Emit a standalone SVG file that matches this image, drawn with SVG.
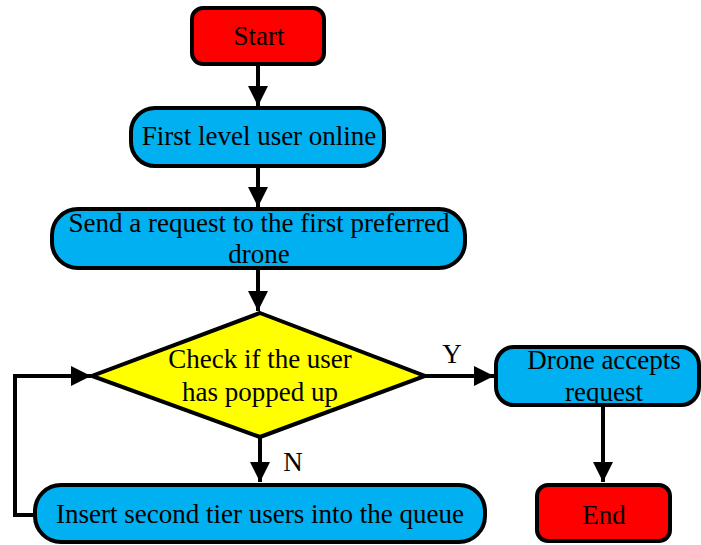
<svg xmlns="http://www.w3.org/2000/svg" width="701" height="545" viewBox="0 0 701 545" font-family="'Liberation Serif', 'DejaVu Serif', serif">
  <style>
    .box { stroke: #000; stroke-width: 4; }
    .term { fill: #FF0000; }
    .proc { fill: #00B0F0; }
    .dec { fill: #FFFF00; }
    .lbl { font-family: 'Liberation Serif', 'DejaVu Serif', serif; font-size: 27px; fill: #000; text-anchor: middle; }
    .edge { fill: none; stroke: #000; stroke-width: 4; }
  </style>
  <defs>
    <marker id="arrow" viewBox="0 0 10 10" refX="10" refY="5" markerWidth="5" markerHeight="5" markerUnits="strokeWidth" orient="auto">
      <path d="M0,0 L10,5 L0,10 Z" fill="#000"/>
    </marker>
  </defs>

  <rect width="701" height="545" fill="#fff"/>

  <g id="connectors">
    <path class="edge" d="M258,64 L258,106" marker-end="url(#arrow)"/>
    <path class="edge" d="M258,166 L258,207" marker-end="url(#arrow)"/>
    <path class="edge" d="M258,268 L258,311" marker-end="url(#arrow)"/>
    <path class="edge" d="M425,376 L494,376" marker-end="url(#arrow)"/>
    <path class="edge" d="M260,437 L260,482" marker-end="url(#arrow)"/>
    <path class="edge" d="M603,405 L603,482" marker-end="url(#arrow)"/>
    <path class="edge" d="M35,515 L15,515 L15,376 L91,376" marker-end="url(#arrow)"/>
    <text class="lbl" x="452" y="363">Y</text>
    <text class="lbl" x="293" y="471">N</text>
  </g>

  <g id="start">
    <rect class="box term" x="192" y="8" width="132" height="56" rx="11"/>
    <text class="lbl" x="259" y="45">Start</text>
  </g>

  <g id="first-level">
    <rect class="box proc" x="131" y="108" width="253" height="58" rx="24"/>
    <text class="lbl" x="259" y="145">First level user online</text>
  </g>

  <g id="send-request">
    <rect class="box proc" x="52" y="209" width="413" height="59" rx="26"/>
    <text class="lbl" x="259" y="232">Send a request to the first preferred</text>
    <text class="lbl" x="259" y="263">drone</text>
  </g>

  <g id="check">
    <polygon class="box dec" points="260,313 425,376 260,437 92,376"/>
    <text class="lbl" x="260" y="368">Check if the user</text>
    <text class="lbl" x="260" y="401">has popped up</text>
  </g>

  <g id="accept">
    <rect class="box proc" x="496" y="347" width="203" height="58" rx="18"/>
    <text class="lbl" x="604" y="369">Drone accepts</text>
    <text class="lbl" x="604" y="401">request</text>
  </g>

  <g id="insert">
    <rect class="box proc" x="35" y="485" width="450" height="57" rx="26"/>
    <text class="lbl" x="260" y="523">Insert second tier users into the queue</text>
  </g>

  <g id="end">
    <rect class="box term" x="537" y="485" width="133" height="56" rx="11"/>
    <text class="lbl" x="604" y="524">End</text>
  </g>
</svg>
